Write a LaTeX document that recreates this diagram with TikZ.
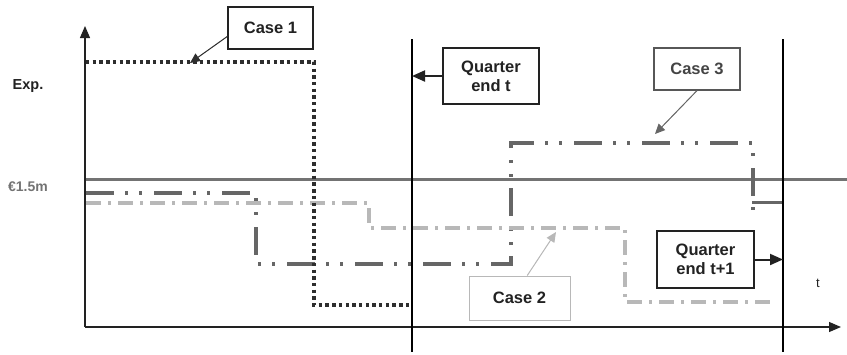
\documentclass[tikz,border=0pt]{standalone}
\usepackage{fontspec}
\setmainfont{Liberation Sans}
\usetikzlibrary{arrows.meta}
\definecolor{ink}{HTML}{222222}
\definecolor{cone}{HTML}{2E2E2E}
\definecolor{cthree}{HTML}{666666}
\definecolor{ctwo}{HTML}{B8B8B8}
\definecolor{level}{HTML}{737373}
\definecolor{cthreetext}{HTML}{444444}
\tikzset{
  boxfont/.style={font=\fontsize{16.5}{19}\selectfont\bfseries, text=ink, align=center, inner sep=0pt},
  quarterbox/.style={boxfont, draw=ink, line width=2pt},
  casebox/.style={boxfont, draw=ink, line width=1.2pt},
  tip/.style={-{Triangle[length=10pt,width=9pt]}},
  bigtip/.style={-{Triangle[length=13pt,width=11pt]}},
  axistip/.style={-{Triangle[length=12pt,width=10pt]}},
  caseone/.style={draw=cone, line width=3.2pt, dash pattern=on 3.4pt off 3.3pt},
  casetwo/.style={draw=ctwo, line width=3.4pt, dash pattern=on 15pt off 7pt on 3pt off 7pt},
  casethree/.style={draw=cthree, line width=3.4pt, dash pattern=on 28pt off 11pt on 3pt off 11pt on 3pt off 12pt},
  qline/.style={draw=black, line width=1.5pt},
}
\begin{document}
\begin{tikzpicture}[x=1pt,y=-1pt]
\useasboundingbox (0,0) rectangle (847,354);
% axes
\coordinate (O) at (85,327);
\coordinate (ytop) at (85,26);
\coordinate (xend) at (841,327);
\draw[axistip, line width=1.2pt, draw=ink, fill=ink] (O) -- (ytop);
\draw[axistip, line width=1.2pt, draw=ink, fill=ink] (O) -- (xend);
% level line
\coordinate (lvA) at (86,179.5);
\coordinate (lvB) at (847,179.5);
\draw[draw=level, line width=3.8pt] (lvA) -- (lvB);
% case 3
\draw[casethree] (86,193) -- (256,193) -- (256,264) -- (511,264) -- (511,143) -- (753,143) -- (753,212);
\draw[draw=cthree, line width=3pt] (752,202) -- (783,202);
% case 2
\draw[casetwo] (86,203) -- (369,203) -- (369,228) -- (625,228) -- (625,302) -- (773,302);
% case 1
\draw[caseone] (86,62) -- (314,62) -- (314,305) -- (412,305);
% quarter lines
\coordinate (v1top) at (412,39);
\coordinate (v1bot) at (412,352);
\coordinate (v2top) at (783,39);
\coordinate (v2bot) at (783,352);
\draw[qline] (v1top) -- (v1bot);
\draw[qline] (v2top) -- (v2bot);
% labels
\node[font=\fontsize{14.5}{17}\selectfont\bfseries, text=ink] (exp) at (28,86) {Exp.};
\node[font=\fontsize{14}{17}\selectfont\bfseries, text=level] (lvl) at (28,187) {€1.5m};
\node[font=\fontsize{13}{15}\selectfont, text=ink] (tlab) at (818,283) {t};
% boxes
\node[casebox, minimum width=85pt, minimum height=42pt] (c1) at (270.5,28) {Case 1};
\node[quarterbox, minimum width=96pt, minimum height=56pt] (qt) at (491,76) {Quarter\\end t};
\node[casebox, draw=cthree!85!black, text=cthreetext, minimum width=86pt, minimum height=42pt] (c3) at (697,69) {Case 3};
\node[casebox, draw=ctwo, line width=1pt, minimum width=101pt, minimum height=44pt] (c2) at (519.5,298) {Case 2};
\node[quarterbox, minimum width=97pt, minimum height=57pt] (qt1) at (705.5,259.5) {Quarter\\end t+1};
% connectors
\coordinate (c1tip) at (190,63);
\coordinate (c3tip) at (655,134);
\coordinate (c2tip) at (556,232);
\draw[tip, line width=1pt, draw=cone, fill=cone] (c1.191) -- (c1tip);
\draw[tip, line width=1pt, draw=cthree, fill=cthree] (c3.south) -- (c3tip);
\draw[tip, line width=1pt, draw=ctwo, fill=ctwo] (c2.71) -- (c2tip);
\draw[bigtip, line width=2pt, draw=ink, fill=ink] (qt.west) -- (qt.west -| v1top);
\draw[bigtip, line width=2pt, draw=ink, fill=ink] (qt1.east) -- (qt1.east -| v2top);
\end{tikzpicture}
\end{document}
